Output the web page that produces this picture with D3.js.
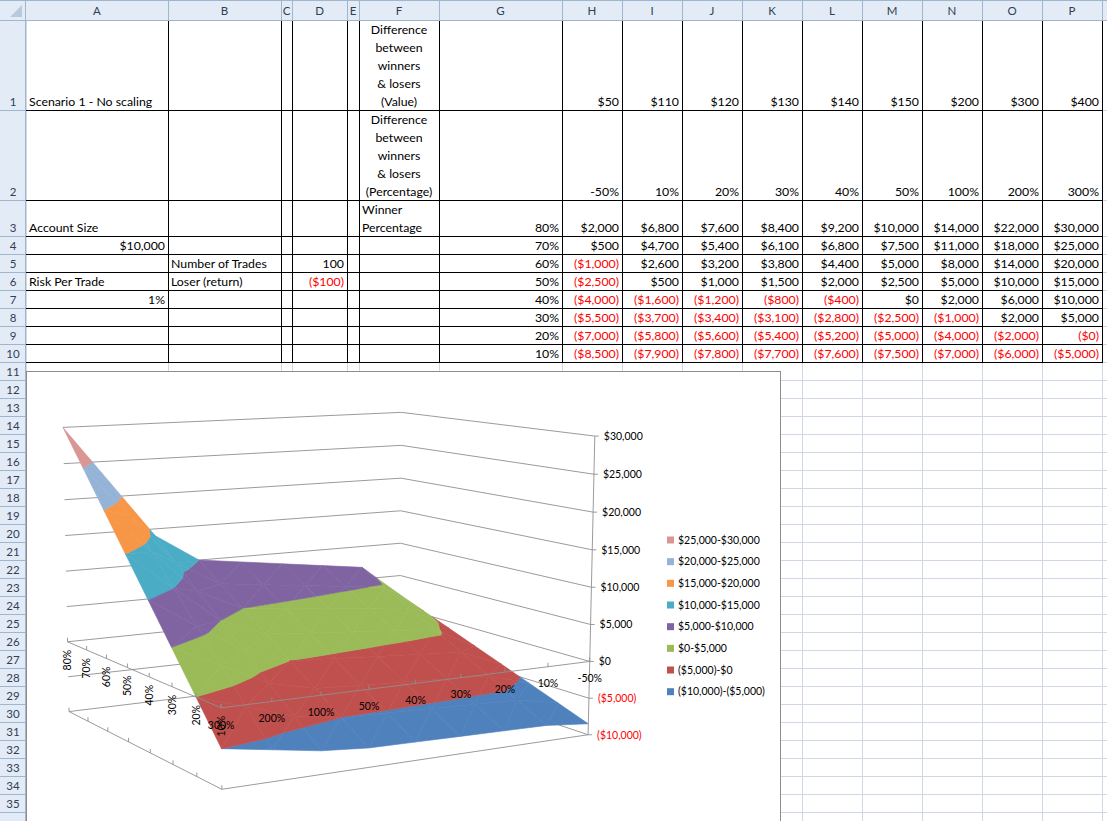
<!DOCTYPE html>
<html><head><meta charset="utf-8">
<script src="https://cdn.jsdelivr.net/npm/d3@7"></script>
<style>
html,body{margin:0;padding:0;background:#fff;overflow:hidden;}
svg{display:block;font-family:Lato,"Open Sans",sans-serif;}
</style></head><body>
<svg id="c" width="1107" height="821"></svg>
<script>
// ---------------- data ----------------
const columnLetters = ["A","B","C","D","E","F","G","H","I","J","K","L","M","N","O","P"];
const winnerValueLabels = ["$50","$110","$120","$130","$140","$150","$200","$300","$400"];
const categories = ["-50%","10%","20%","30%","40%","50%","100%","200%","300%"];
const seriesNames = ["80%","70%","60%","50%","40%","30%","20%","10%"];
const win80 = [2000,6800,7600,8400,9200,10000,14000,22000,30000];
const win70 = [500,4700,5400,6100,6800,7500,11000,18000,25000];
const win60 = [-1000,2600,3200,3800,4400,5000,8000,14000,20000];
const win50 = [-2500,500,1000,1500,2000,2500,5000,10000,15000];
const win40 = [-4000,-1600,-1200,-800,-400,0,2000,6000,10000];
const win30 = [-5500,-3700,-3400,-3100,-2800,-2500,-1000,2000,5000];
const win20 = [-7000,-5800,-5600,-5400,-5200,-5000,-4000,-2000,-0];
const win10 = [-8500,-7900,-7800,-7700,-7600,-7500,-7000,-6000,-5000];
const valueTicks = [-10000,-5000,0,5000,10000,15000,20000,25000,30000];
const accountSize = 10000, numberOfTrades = 100, loserReturn = -100, riskPerTrade = "1%";

const seriesValues = [win80,win70,win60,win50,win40,win30,win20,win10];

// ---------------- styles / layout ----------------
const bandColors = ["#4F81BD","#C0504D","#9BBB59","#8064A2","#4BACC6","#F79646","#95B3D7","#D99694"];
const colEdges = [26,168,281,292,347,359,439,562,622,682,742,802,862,922,982,1042,1102,1162];
const rowEdges = [20,110,200];
for (let y = 236; y <= 830; y += 18) rowEdges.push(y);
const RED = "#FF0000";
const sheetFont = 12.3, hdrFont = 11.5, chartFont = 10.5;

const fmtMoney = v => {
  const neg = v < 0 || Object.is(v, -0);
  const s = "$" + d3.format(",")(Math.abs(v));
  return neg ? "(" + s + ")" : s;
};
const isNeg = v => v < 0 || Object.is(v, -0);

const svg = d3.select("#c");
svg.append("rect").attr("width",1107).attr("height",821).attr("fill","#fff");

// ---------------- sheet grid ----------------
const grid = svg.append("g").attr("stroke","#D0D7E5").attr("stroke-width",1).attr("shape-rendering","crispEdges");
colEdges.forEach(x => grid.append("line").attr("x1",x+0.5).attr("x2",x+0.5).attr("y1",20).attr("y2",821));
rowEdges.forEach(y => grid.append("line").attr("x1",26).attr("x2",1107).attr("y1",y+0.5).attr("y2",y+0.5));

// black borders A1:P10
const bord = svg.append("g").attr("stroke","#000").attr("stroke-width",1).attr("shape-rendering","crispEdges");
const tableBottom = rowEdges[10];
colEdges.slice(1,17).forEach(x => bord.append("line").attr("x1",x+0.5).attr("x2",x+0.5).attr("y1",20).attr("y2",tableBottom+0.5));
rowEdges.slice(0,11).forEach(y => bord.append("line").attr("x1",26).attr("x2",1102.5).attr("y1",y+0.5).attr("y2",y+0.5));

// cell text helper
function cell(col, row, lines, align, color) {
  if (!Array.isArray(lines)) lines = [lines];
  const x0 = colEdges[col], x1 = colEdges[col+1];
  const bottom = rowEdges[row];
  const n = lines.length;
  lines.forEach((t,i) => {
    const cyy = bottom - 8.5 - (n-1-i)*18;
    let x, anchor;
    if (align === "left") { x = x0 + 3; anchor = "start"; }
    else if (align === "right") { x = x1 - 3; anchor = "end"; }
    else { x = (x0+x1)/2; anchor = "middle"; }
    svg.append("text").attr("x",x).attr("y",cyy + 0.36*sheetFont)
      .attr("text-anchor",anchor).attr("font-size",sheetFont)
      .attr("fill",color || "#000").text(t);
  });
}
cell(0,1,"Scenario 1 - No scaling","left");
cell(5,1,["Difference","between","winners","& losers","(Value)"],"center");
winnerValueLabels.forEach((t,i) => cell(7+i,1,t,"right"));
cell(5,2,["Difference","between","winners","& losers","(Percentage)"],"center");
categories.forEach((t,i) => cell(7+i,2,t,"right"));
cell(0,3,"Account Size","left");
cell(5,3,["Winner","Percentage"],"left");
cell(0,4,fmtMoney(accountSize),"right");
cell(1,5,"Number of Trades","left");
cell(3,5,String(numberOfTrades),"right");
cell(0,6,"Risk Per Trade","left");
cell(1,6,"Loser (return)","left");
cell(3,6,fmtMoney(loserReturn),"right",RED);
cell(0,7,riskPerTrade,"right");
seriesNames.forEach((s,j) => {
  cell(6,3+j,s,"right");
  seriesValues[j].forEach((v,i) => cell(7+i,3+j,fmtMoney(v),"right",isNeg(v)?RED:"#000"));
});

// ---------------- headers ----------------
const hdrFill = "#E3EBF6", hdrLine = "#9EB6CE";
svg.append("rect").attr("x",0).attr("y",0).attr("width",1107).attr("height",20).attr("fill",hdrFill);
svg.append("rect").attr("x",0).attr("y",20).attr("width",26).attr("height",801).attr("fill",hdrFill);
const hg = svg.append("g").attr("stroke",hdrLine).attr("shape-rendering","crispEdges");
hg.append("line").attr("x1",0).attr("x2",1107).attr("y1",0.5).attr("y2",0.5);
hg.append("line").attr("x1",0).attr("x2",1107).attr("y1",20.5).attr("y2",20.5);
hg.append("line").attr("x1",25.5).attr("x2",25.5).attr("y1",0).attr("y2",821);
colEdges.slice(1).forEach(x => hg.append("line").attr("x1",x+0.5).attr("x2",x+0.5).attr("y1",1).attr("y2",20));
rowEdges.slice(1).forEach(y => hg.append("line").attr("x1",0).attr("x2",26).attr("y1",y+0.5).attr("y2",y+0.5));
svg.append("path").attr("d","M22,5L22,17L10,17Z").attr("fill","#B9C9DD");
columnLetters.forEach((L,i) => {
  svg.append("text").attr("x",(colEdges[i]+colEdges[i+1])/2).attr("y",11+0.36*hdrFont)
    .attr("text-anchor","middle").attr("font-size",hdrFont).attr("fill","#2F3F55").text(L);
});
for (let r = 1; r < rowEdges.length; r++) {
  if (rowEdges[r] > 821) break;
  svg.append("text").attr("x",13).attr("y",rowEdges[r]-8.5+0.36*hdrFont)
    .attr("text-anchor","middle").attr("font-size",hdrFont).attr("fill","#2F3F55").text(r);
}

// ---------------- chart ----------------
const chart = svg.append("g");
chart.append("rect").attr("x",26.5).attr("y",371.5).attr("width",754).attr("height",470)
  .attr("fill","#fff").attr("stroke","#8C8C8C").attr("stroke-width",1);

// 3D camera
const theta = -29.9*Math.PI/180, phi = 9.2*Math.PI/180, camDist = 1947;
const boxW = 405, boxD = 349, boxH = 295, cx = 322, cy = 579;
const xScale = d3.scalePoint().domain(categories).range([boxW/2, -boxW/2]);
const zScale = d3.scalePoint().domain(seriesNames).range([boxD/2, -boxD/2]);
const yScale = d3.scaleLinear().domain([valueTicks[0], valueTicks[valueTicks.length-1]]).range([-boxH/2, boxH/2]);
function project(X, Y, Z) {
  const x1 = X*Math.cos(theta) + Z*Math.sin(theta);
  const z1 = -X*Math.sin(theta) + Z*Math.cos(theta);
  const y2 = Y*Math.cos(phi) + z1*Math.sin(phi);
  const z2 = z1*Math.cos(phi) - Y*Math.sin(phi);
  const k = camDist/(camDist + z2);
  return [cx + x1*k, cy - y2*k, z2];
}
const P = (cat, ser, v) => project(xScale(cat), yScale(v), zScale(ser));
const catL = categories[categories.length-1], catR = categories[0];
const serB = seriesNames[0], serF = seriesNames[seriesNames.length-1];
const vMin = valueTicks[0], vMax = valueTicks[valueTicks.length-1];

const lineCol = "#8E8E8E";
const walls = chart.append("g").attr("fill","none").attr("stroke",lineCol).attr("stroke-width",0.9);
const ln = d3.line();
valueTicks.forEach(v => {
  walls.append("path").attr("d", ln([P(catL,serB,v), P(catR,serB,v), P(catR,serF,v)].map(p=>[p[0],p[1]])));
});
walls.append("path").attr("d", ln([P(catL,serB,vMin), P(catL,serF,vMin), P(catR,serF,vMin)].map(p=>[p[0],p[1]])));
seriesNames.forEach(s => { const p = P(catL,s,vMin); walls.append("line").attr("x1",p[0]).attr("x2",p[0]).attr("y1",p[1]).attr("y2",p[1]-4); });

// surface
const bands = d3.range(bandColors.length).map(i => [vMin + i*5000, vMin + (i+1)*5000]);
function clip(poly, f) {
  const out = [];
  for (let i = 0; i < poly.length; i++) {
    const a = poly[i], b = poly[(i+1)%poly.length];
    const fa = f(a), fb = f(b);
    if (fa >= 0) out.push(a);
    if ((fa >= 0) !== (fb >= 0)) {
      const t = fa/(fa-fb);
      out.push({X:a.X+(b.X-a.X)*t, Z:a.Z+(b.Z-a.Z)*t, v:a.v+(b.v-a.v)*t});
    }
  }
  return out;
}
const facets = [];
for (let j = 0; j < seriesNames.length-1; j++) {
  for (let i = 0; i < categories.length-1; i++) {
    const V = (ii,jj) => ({X:xScale(categories[ii]), Z:zScale(seriesNames[jj]), v:seriesValues[jj][ii]});
    const p00 = V(i,j), p10 = V(i+1,j), p01 = V(i,j+1), p11 = V(i+1,j+1);
    [[p00,p10,p11],[p00,p11,p01]].forEach(tri => {
      const cX = d3.mean(tri,d=>d.X), cZ = d3.mean(tri,d=>d.Z), cV = d3.mean(tri,d=>d.v);
      const depth = project(cX, yScale(cV), cZ)[2];
      bands.forEach(([lo,hi],b) => {
        let poly = clip(tri, p => p.v - lo);
        if (poly.length >= 3) poly = clip(poly, p => hi - p.v);
        if (poly.length >= 3) facets.push({poly, depth, color: bandColors[b]});
      });
    });
  }
}
facets.sort((a,b) => b.depth - a.depth);
const surf = chart.append("g");
const closed = d3.line().curve(d3.curveLinearClosed);
facets.forEach(f => {
  const pts = f.poly.map(p => { const q = project(p.X, yScale(p.v), p.Z); return [q[0], q[1]]; });
  surf.append("path").attr("d", closed(pts)).attr("fill", f.color).attr("stroke", f.color).attr("stroke-width",0.6).attr("stroke-linejoin","round");
});

// axes at $0
const axes = chart.append("g").attr("fill","none").attr("stroke",lineCol).attr("stroke-width",0.9);
axes.append("path").attr("d", ln([P(catL,serB,0), P(catL,serF,0), P(catR,serF,0)].map(p=>[p[0],p[1]])));
categories.forEach(c => { const p = P(c,serF,0); axes.append("line").attr("x1",p[0]).attr("x2",p[0]).attr("y1",p[1]).attr("y2",p[1]-4); });
seriesNames.forEach(s => { const p = P(catL,s,0); axes.append("line").attr("x1",p[0]).attr("x2",p[0]).attr("y1",p[1]).attr("y2",p[1]-4); });
const vb = P(catR,serF,vMin), vt = P(catR,serF,vMax);
axes.append("line").attr("x1",vb[0]).attr("y1",vb[1]).attr("x2",vt[0]).attr("y2",vt[1]);
valueTicks.forEach(v => {
  const p = P(catR,serF,v);
  axes.append("line").attr("x1",p[0]).attr("x2",p[0]+4).attr("y1",p[1]).attr("y2",p[1]);
  chart.append("text").attr("x",p[0]+9).attr("y",p[1]+0.36*chartFont).attr("font-size",chartFont)
    .attr("fill", isNeg(v) ? RED : "#000").text(fmtMoney(v));
});
categories.forEach(c => {
  const p = P(c,serF,0);
  chart.append("text").attr("x",p[0]).attr("y",p[1]+17+0.36*chartFont).attr("text-anchor","middle")
    .attr("font-size",chartFont).attr("fill","#000").text(c);
});
seriesNames.forEach(s => {
  const p = P(catL,s,0);
  chart.append("text").attr("transform",`translate(${p[0]},${p[1]+8}) rotate(-90)`)
    .attr("dy",(0.36*chartFont)).attr("text-anchor","end").attr("font-size",chartFont)
    .attr("fill","#000").text(s);
});

// legend
const legend = chart.append("g").attr("transform","translate(667,540)");
bands.slice().reverse().forEach(([lo,hi],i) => {
  const b = bands.length-1-i;
  const g = legend.append("g").attr("transform",`translate(0,${i*21.67})`);
  g.append("rect").attr("x",0).attr("y",-3.5).attr("width",7).attr("height",7).attr("fill",bandColors[b]);
  g.append("text").attr("x",11).attr("y",0.36*chartFont).attr("font-size",chartFont).attr("fill","#000")
    .text(fmtMoney(lo) + "-" + fmtMoney(hi));
});
</script>
</body></html>
